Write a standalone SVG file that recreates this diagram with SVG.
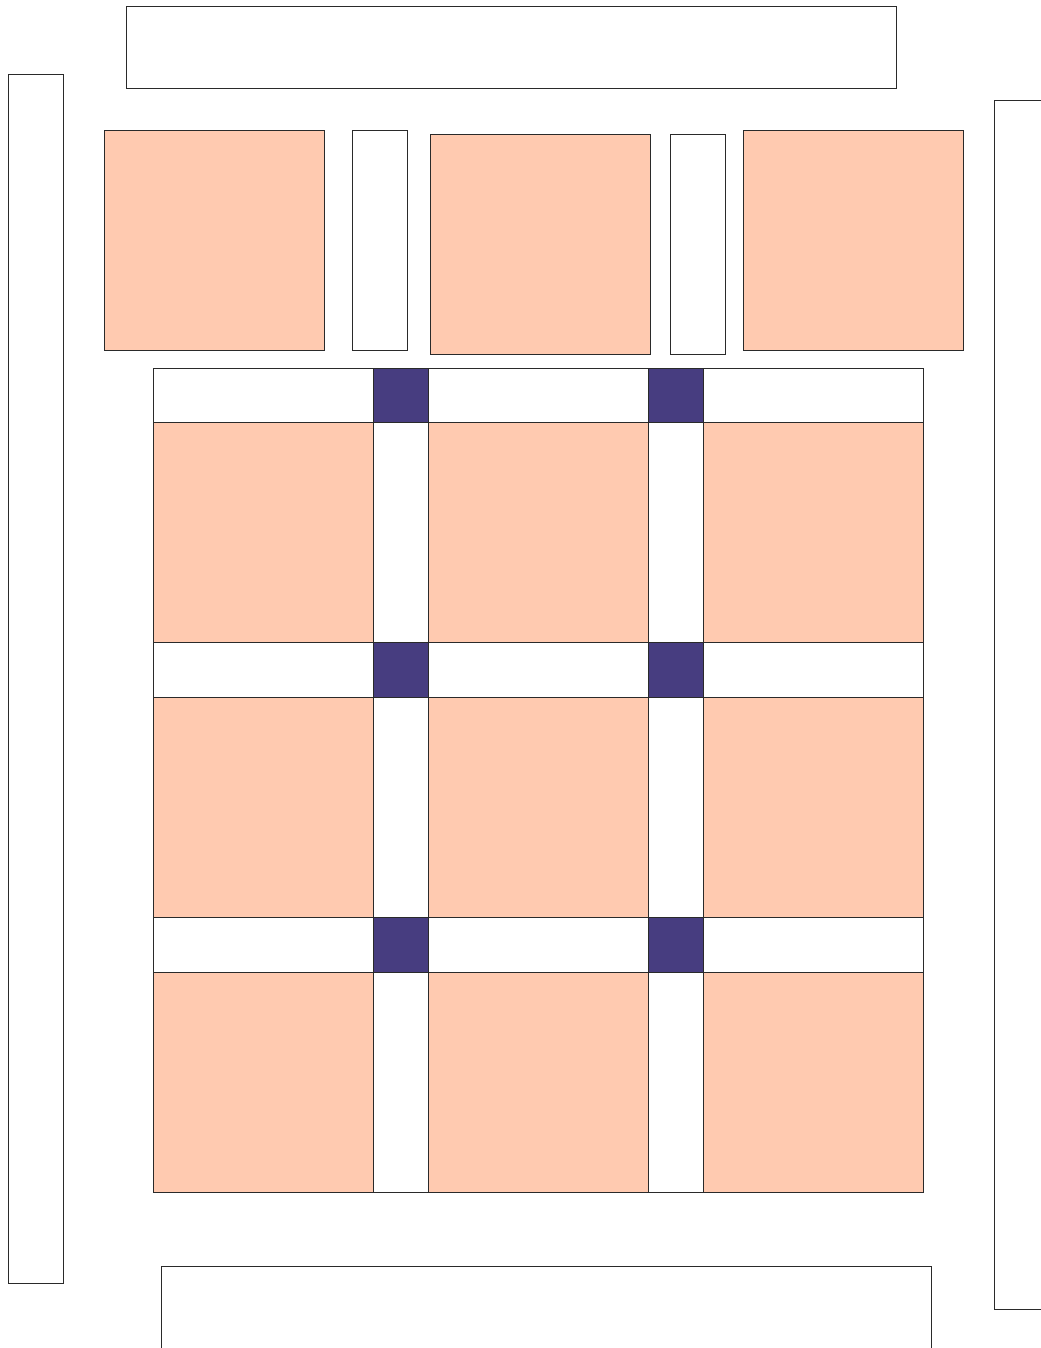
<svg xmlns="http://www.w3.org/2000/svg" width="1041" height="1348" viewBox="0 0 1041 1348">
<style>
.w,.p,.d{stroke:#2a2a2a;stroke-width:1}
.w{fill:#ffffff}
.p{fill:#ffcab0}
.d{fill:#473d80}
</style>
<rect x="0" y="0" width="1041" height="1348" style="fill:#ffffff;stroke:none"/>
<g id="border-top"><rect class="w" x="126.5" y="6.5" width="770" height="82"/></g>
<g id="border-left"><rect class="w" x="8.5" y="74.5" width="55" height="1209"/></g>
<g id="border-right"><rect class="w" x="994.5" y="100.5" width="60" height="1209"/></g>
<g id="border-bottom"><rect class="w" x="161.5" y="1266.5" width="770" height="95"/></g>
<g id="top-row">
<g id="top-1"><rect class="p" x="104.5" y="130.5" width="220" height="220"/></g>
<g id="top-2"><rect class="w" x="352.5" y="130.5" width="55" height="220"/></g>
<g id="top-3"><rect class="p" x="430.5" y="134.5" width="220" height="220"/></g>
<g id="top-4"><rect class="w" x="670.5" y="134.5" width="55" height="220"/></g>
<g id="top-5"><rect class="p" x="743.5" y="130.5" width="220" height="220"/></g>
</g>
<g id="grid">
<g id="sash-r1">
<rect class="w" x="153.5" y="368.5" width="220" height="54"/>
<rect class="d" x="373.5" y="368.5" width="55" height="54"/>
<rect class="w" x="428.5" y="368.5" width="220" height="54"/>
<rect class="d" x="648.5" y="368.5" width="55" height="54"/>
<rect class="w" x="703.5" y="368.5" width="220" height="54"/>
</g>
<g id="block-r1">
<rect class="p" x="153.5" y="422.5" width="220" height="220"/>
<rect class="w" x="373.5" y="422.5" width="55" height="220"/>
<rect class="p" x="428.5" y="422.5" width="220" height="220"/>
<rect class="w" x="648.5" y="422.5" width="55" height="220"/>
<rect class="p" x="703.5" y="422.5" width="220" height="220"/>
</g>
<g id="sash-r2">
<rect class="w" x="153.5" y="642.5" width="220" height="55"/>
<rect class="d" x="373.5" y="642.5" width="55" height="55"/>
<rect class="w" x="428.5" y="642.5" width="220" height="55"/>
<rect class="d" x="648.5" y="642.5" width="55" height="55"/>
<rect class="w" x="703.5" y="642.5" width="220" height="55"/>
</g>
<g id="block-r2">
<rect class="p" x="153.5" y="697.5" width="220" height="220"/>
<rect class="w" x="373.5" y="697.5" width="55" height="220"/>
<rect class="p" x="428.5" y="697.5" width="220" height="220"/>
<rect class="w" x="648.5" y="697.5" width="55" height="220"/>
<rect class="p" x="703.5" y="697.5" width="220" height="220"/>
</g>
<g id="sash-r3">
<rect class="w" x="153.5" y="917.5" width="220" height="55"/>
<rect class="d" x="373.5" y="917.5" width="55" height="55"/>
<rect class="w" x="428.5" y="917.5" width="220" height="55"/>
<rect class="d" x="648.5" y="917.5" width="55" height="55"/>
<rect class="w" x="703.5" y="917.5" width="220" height="55"/>
</g>
<g id="block-r3">
<rect class="p" x="153.5" y="972.5" width="220" height="220"/>
<rect class="w" x="373.5" y="972.5" width="55" height="220"/>
<rect class="p" x="428.5" y="972.5" width="220" height="220"/>
<rect class="w" x="648.5" y="972.5" width="55" height="220"/>
<rect class="p" x="703.5" y="972.5" width="220" height="220"/>
</g>
</g>
<g id="connectors"/>
</svg>
